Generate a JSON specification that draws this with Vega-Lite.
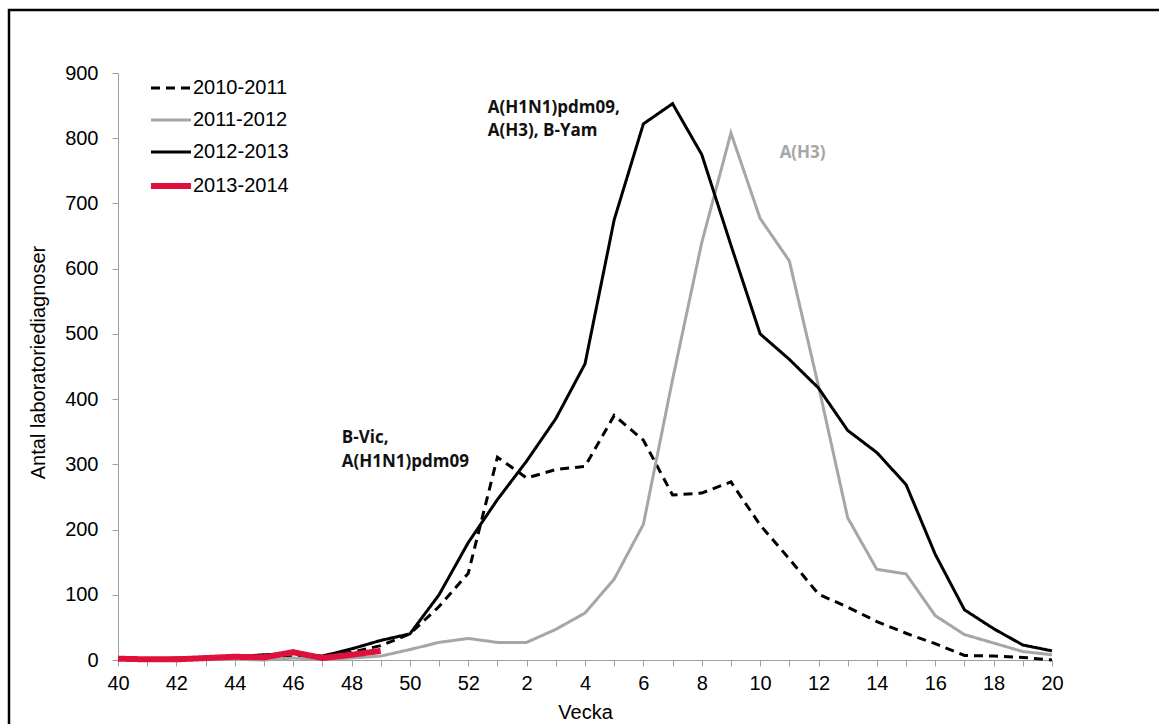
{
  "$schema": "https://vega.github.io/schema/vega-lite/v6.json",
  "width": 1200,
  "height": 760,
  "autosize": {"type": "none"},
  "padding": {"left": 9, "top": 10, "right": 0, "bottom": 0},
  "background": "white",
  "config": {
    "view": {"stroke": "black", "strokeWidth": 2.5},
    "font": "Liberation Sans",
    "axis": {"grid": false}
  },
  "layer": [
    {
      "data": {
        "values": [
          {"week": "40", "2010-2011": 1, "2011-2012": 1, "2012-2013": 2, "2013-2014": 2},
          {"week": "41", "2010-2011": 1, "2011-2012": 0, "2012-2013": 1, "2013-2014": 1},
          {"week": "42", "2010-2011": 2, "2011-2012": 0, "2012-2013": 3, "2013-2014": 1},
          {"week": "43", "2010-2011": 2, "2011-2012": 1, "2012-2013": 3, "2013-2014": 3},
          {"week": "44", "2010-2011": 3, "2011-2012": 1, "2012-2013": 5, "2013-2014": 5},
          {"week": "45", "2010-2011": 3, "2011-2012": 0, "2012-2013": 8, "2013-2014": 4},
          {"week": "46", "2010-2011": 5, "2011-2012": 3, "2012-2013": 10, "2013-2014": 12},
          {"week": "47", "2010-2011": 4, "2011-2012": 1, "2012-2013": 6, "2013-2014": 3},
          {"week": "48", "2010-2011": 12, "2011-2012": 3, "2012-2013": 17, "2013-2014": 8},
          {"week": "49", "2010-2011": 22, "2011-2012": 6, "2012-2013": 30, "2013-2014": 14},
          {"week": "50", "2010-2011": 40, "2011-2012": 16, "2012-2013": 40},
          {"week": "51", "2010-2011": 82, "2011-2012": 27, "2012-2013": 100},
          {"week": "52", "2010-2011": 133, "2011-2012": 33, "2012-2013": 180},
          {"week": "1", "2010-2011": 311, "2011-2012": 27, "2012-2013": 246},
          {"week": "2", "2010-2011": 279, "2011-2012": 27, "2012-2013": 305},
          {"week": "3", "2010-2011": 292, "2011-2012": 47, "2012-2013": 370},
          {"week": "4", "2010-2011": 297, "2011-2012": 72, "2012-2013": 454},
          {"week": "5", "2010-2011": 375, "2011-2012": 124, "2012-2013": 675},
          {"week": "6", "2010-2011": 337, "2011-2012": 208, "2012-2013": 822},
          {"week": "7", "2010-2011": 253, "2011-2012": 430, "2012-2013": 853},
          {"week": "8", "2010-2011": 256, "2011-2012": 640, "2012-2013": 775},
          {"week": "9", "2010-2011": 273, "2011-2012": 808, "2012-2013": 636},
          {"week": "10", "2010-2011": 207, "2011-2012": 677, "2012-2013": 500},
          {"week": "11", "2010-2011": 155, "2011-2012": 612, "2012-2013": 461},
          {"week": "12", "2010-2011": 101, "2011-2012": 420, "2012-2013": 417},
          {"week": "13", "2010-2011": 81, "2011-2012": 218, "2012-2013": 352},
          {"week": "14", "2010-2011": 59, "2011-2012": 139, "2012-2013": 318},
          {"week": "15", "2010-2011": 41, "2011-2012": 132, "2012-2013": 269},
          {"week": "16", "2010-2011": 25, "2011-2012": 68, "2012-2013": 162},
          {"week": "17", "2010-2011": 7, "2011-2012": 39, "2012-2013": 77},
          {"week": "18", "2010-2011": 6, "2011-2012": 26, "2012-2013": 48},
          {"week": "19", "2010-2011": 4, "2011-2012": 13, "2012-2013": 23},
          {"week": "20", "2010-2011": 0, "2011-2012": 8, "2012-2013": 14}
        ]
      },
      "transform": [
        {"fold": ["2010-2011", "2011-2012", "2012-2013", "2013-2014"], "as": ["season", "count"]},
        {"filter": "isValid(datum.count)"}
      ],
      "mark": {"type": "line"},
      "encoding": {
        "x": {
          "field": "week",
          "type": "ordinal",
          "scale": {
            "type": "point",
            "domain": ["40","41","42","43","44","45","46","47","48","49","50","51","52","1","2","3","4","5","6","7","8","9","10","11","12","13","14","15","16","17","18","19","20"],
            "range": [109, 1043],
            "padding": 0
          },
          "axis": {
            "title": "Vecka",
            "labelAngle": 0,
            "labelExpr": "toNumber(datum.value) % 2 == 0 ? datum.value : ''",
            "labelOverlap": false,
            "labelFontSize": 20,
            "labelColor": "black",
            "labelPadding": 7,
            "tickColor": "#a0a0a0",
            "domainColor": "#a0a0a0",
            "tickSize": 6,
            "offset": -110,
            "titleFontSize": 20,
            "titleFontWeight": "normal",
            "titleColor": "black",
            "titleX": 576,
            "titleY": 52,
            "titleAlign": "center",
            "titleBaseline": "middle"
          }
        },
        "y": {
          "field": "count",
          "type": "quantitative",
          "scale": {"domain": [0, 900], "range": [650, 63], "nice": false},
          "axis": {
            "title": "Antal laboratoriediagnoser",
            "values": [0, 100, 200, 300, 400, 500, 600, 700, 800, 900],
            "format": "d",
            "labelFontSize": 20,
            "labelColor": "black",
            "labelPadding": 14,
            "tickColor": "#a0a0a0",
            "domainColor": "#a0a0a0",
            "tickSize": 6,
            "offset": -109,
            "titleFontSize": 20,
            "titleFontWeight": "normal",
            "titleColor": "black",
            "titleAngle": -90,
            "titleX": -80,
            "titleY": 352,
            "titleAlign": "center",
            "titleBaseline": "middle"
          }
        },
        "color": {
          "field": "season",
          "type": "nominal",
          "scale": {"domain": ["2010-2011", "2011-2012", "2012-2013", "2013-2014"], "range": ["#000000", "#a6a6a6", "#000000", "#e0103c"]},
          "legend": {
            "title": null,
            "orient": "none",
            "legendX": 152,
            "legendY": 68,
            "symbolType": "stroke",
            "symbolSize": 1600,
            "labelFontSize": 20,
            "labelColor": "black",
            "labelOffset": 12,
            "rowPadding": 12,
            "encode": {
              "symbols": {
                "update": {
                  "strokeWidth": {"signal": "datum.value == '2013-2014' ? 6 : 3"}
                }
              }
            }
          }
        },
        "strokeDash": {
          "field": "season",
          "type": "nominal",
          "scale": {"domain": ["2010-2011", "2011-2012", "2012-2013", "2013-2014"], "range": [[9, 6], [1, 0], [1, 0], [1, 0]]},
          "legend": {"title": null}
        },
        "strokeWidth": {
          "condition": [
            {"test": "datum.season == '2013-2014'", "value": 6}
          ],
          "value": 3
        }
      }
    },
    {
      "data": {
        "values": [
          {"week": "52", "count": 847, "label": "A(H1N1)pdm09,"},
          {"week": "52", "count": 811, "label": "A(H3), B-Yam"},
          {"week": "47", "count": 340, "label": "B-Vic,"},
          {"week": "47", "count": 304, "label": "A(H1N1)pdm09"}
        ]
      },
      "mark": {"type": "text", "align": "left", "baseline": "middle", "dx": 19.5, "font": "Open Sans", "fontWeight": "bold", "fontSize": 17, "color": "#111111"},
      "encoding": {
        "x": {"field": "week", "type": "ordinal"},
        "y": {"field": "count", "type": "quantitative"},
        "text": {"field": "label"}
      }
    },
    {
      "data": {
        "values": [
          {"week": "10", "count": 778, "label": "A(H3)"}
        ]
      },
      "mark": {"type": "text", "align": "left", "baseline": "middle", "dx": 19.5, "font": "Open Sans", "fontWeight": "bold", "fontSize": 17, "color": "#a6a6a6"},
      "encoding": {
        "x": {"field": "week", "type": "ordinal"},
        "y": {"field": "count", "type": "quantitative"},
        "text": {"field": "label"}
      }
    }
  ]
}
